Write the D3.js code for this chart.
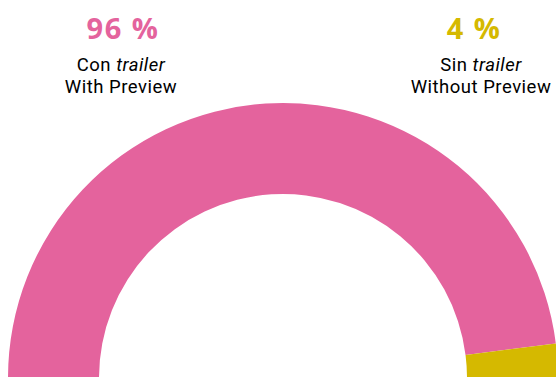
<!DOCTYPE html>
<html>
<head>
<meta charset="utf-8">
<script src="https://cdn.jsdelivr.net/npm/d3@7"></script>
<style>
  body { margin: 0; background: #fff; }
  svg { display: block; }
  text { font-family: "Open Sans", "Noto Sans", sans-serif; }
  .desc { font-family: Roboto, "Liberation Sans", sans-serif; }
</style>
</head>
<body>
<div id="chart"></div>
<script>
// data
var categories = ["Con trailer", "Sin trailer"];
var subLabels = ["With Preview", "Without Preview"];
var values = [96, 4];
var colors = ["#e4639d", "#d5b900"];

var width = 556, height = 377;
var cx = 283, cy = 378;
var outerR = 275, innerR = 184;

var svg = d3.select("#chart")
  .append("svg")
    .attr("width", width)
    .attr("height", height);

var pie = d3.pie()
  .sort(null)
  .startAngle(-Math.PI / 2)
  .endAngle(Math.PI / 2)
  .value(function(d) { return d; });

var arc = d3.arc()
  .innerRadius(innerR)
  .outerRadius(outerR);

var g = svg.append("g")
  .attr("transform", "translate(" + cx + "," + cy + ")");

g.selectAll("path")
  .data(pie(values))
  .enter()
  .append("path")
    .attr("d", arc)
    .attr("fill", function(d, i) { return colors[i]; });

// labels
var labelX = [121, 481];
var numX = [123, 474];

var lab = svg.selectAll(".lab")
  .data(values)
  .enter()
  .append("g")
    .attr("class", "lab")
    .attr("transform", function(d, i) { return "translate(" + labelX[i] + ",0)"; });

lab.append("text")
  .attr("x", function(d, i) { return numX[i] - labelX[i]; })
  .attr("y", 39)
  .attr("text-anchor", "middle")
  .attr("font-size", 29)
  .attr("font-weight", "bold")
  .attr("letter-spacing", 1.5)
  .attr("fill", function(d, i) { return colors[i]; })
  .text(function(d) { return d + " %"; });

// two lines in one text element
var desc = lab.append("text")
  .attr("class", "desc")
  .attr("y", 71)
  .attr("text-anchor", "middle")
  .attr("font-size", 18.5)
  .attr("letter-spacing", 0.5)
  .attr("fill", "#000");
desc.append("tspan").attr("x", 0).text(function(d, i) { return categories[i].split(" ")[0] + " "; });
desc.append("tspan").attr("font-style", "italic").text(function(d, i) { return categories[i].split(" ")[1]; });
desc.append("tspan")
  .attr("x", 0)
  .attr("dy", 22)
  .text(function(d, i) { return subLabels[i]; });
</script>
</body>
</html>
